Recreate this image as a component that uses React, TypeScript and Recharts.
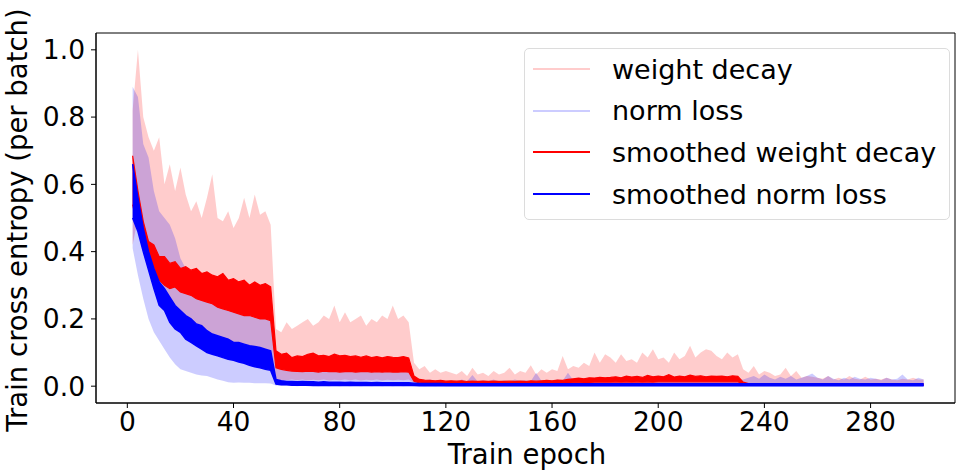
import { ComposedChart, Area, XAxis, YAxis, Legend, Label, ReferenceArea } from 'recharts';

const FONT = '"DejaVu Sans", sans-serif';

// x positions of the sampled points (epochs 2, 4, ..., 300)
const epochs = Array.from({ length: 150 }, (_, i) => 2 + 2 * i);
const xTicks = [0, 40, 80, 120, 160, 200, 240, 280];
const yTicks = [0, 0.2, 0.4, 0.6, 0.8, 1.0];
const xDomain = [-11.8, 311.8];
const yDomain = [-0.05, 1.05];

// weight decay, per batch (upper / lower envelope of the noisy curve)
const wdHi = [
  0.82, 1.0, 0.8, 0.74, 0.7, 0.74, 0.6, 0.66, 0.58, 0.65,
  0.57, 0.52, 0.55, 0.5, 0.56, 0.63, 0.5, 0.49, 0.52, 0.47,
  0.5, 0.56, 0.5, 0.57, 0.51, 0.52, 0.48, 0.17, 0.16, 0.19,
  0.17, 0.18, 0.19, 0.2, 0.18, 0.19, 0.21, 0.2, 0.24, 0.19,
  0.22, 0.19, 0.2, 0.21, 0.18, 0.2, 0.19, 0.21, 0.2, 0.24,
  0.2, 0.21, 0.19, 0.07, 0.05, 0.06, 0.04, 0.05, 0.04, 0.045,
  0.04, 0.035, 0.045, 0.03, 0.055, 0.035, 0.04, 0.03, 0.045, 0.035,
  0.04, 0.055, 0.035, 0.045, 0.04, 0.062, 0.035, 0.05, 0.04, 0.05,
  0.045, 0.09, 0.05, 0.06, 0.055, 0.07, 0.06, 0.1, 0.07, 0.095,
  0.085, 0.07, 0.095, 0.075, 0.08, 0.07, 0.1, 0.085, 0.11, 0.08,
  0.085, 0.07, 0.1, 0.08, 0.09, 0.12, 0.085, 0.1, 0.11, 0.105,
  0.09, 0.08, 0.1, 0.085, 0.095, 0.05, 0.04, 0.06, 0.035, 0.045,
  0.04, 0.03, 0.035, 0.055, 0.03, 0.045, 0.025, 0.03, 0.028, 0.025,
  0.022, 0.03, 0.02, 0.025, 0.02, 0.03, 0.022, 0.02, 0.028, 0.02,
  0.022, 0.02, 0.025, 0.02, 0.018, 0.022, 0.02, 0.025, 0.02, 0.02,
];
const wdLo = [
  0.42, 0.5, 0.43, 0.37, 0.32, 0.27, 0.25, 0.22, 0.2, 0.19,
  0.175, 0.16, 0.15, 0.14, 0.13, 0.12, 0.115, 0.11, 0.105, 0.1,
  0.095, 0.09, 0.088, 0.085, 0.08, 0.078, 0.075, 0.02, 0.018, 0.018,
  0.02, 0.018, 0.02, 0.017, 0.019, 0.018, 0.02, 0.017, 0.019, 0.018,
  0.02, 0.018, 0.02, 0.017, 0.019, 0.018, 0.02, 0.017, 0.019, 0.018,
  0.019, 0.018, 0.02, 0.01, 0.005, 0.004, 0.005, 0.004, 0.005, 0.004,
  0.005, 0.004, 0.005, 0.004, 0.005, 0.004, 0.005, 0.004, 0.005, 0.004,
  0.005, 0.004, 0.005, 0.004, 0.005, 0.004, 0.005, 0.004, 0.005, 0.004,
  0.006, 0.007, 0.008, 0.007, 0.008, 0.007, 0.008, 0.007, 0.008, 0.007,
  0.008, 0.007, 0.008, 0.007, 0.008, 0.007, 0.008, 0.007, 0.008, 0.007,
  0.008, 0.007, 0.008, 0.007, 0.008, 0.007, 0.008, 0.007, 0.008, 0.007,
  0.008, 0.007, 0.008, 0.007, 0.008, 0.004, 0.003, 0.004, 0.003, 0.004,
  0.003, 0.004, 0.003, 0.004, 0.003, 0.004, 0.003, 0.004, 0.003, 0.004,
  0.003, 0.004, 0.003, 0.004, 0.003, 0.004, 0.003, 0.004, 0.003, 0.004,
  0.003, 0.004, 0.003, 0.004, 0.003, 0.004, 0.003, 0.004, 0.003, 0.004,
];

// norm loss, per batch
const nlHi = [
  0.89, 0.86, 0.72, 0.68, 0.58, 0.52, 0.5, 0.48, 0.44, 0.38,
  0.35, 0.32, 0.31, 0.29, 0.28, 0.265, 0.25, 0.245, 0.235, 0.225,
  0.22, 0.215, 0.21, 0.205, 0.2, 0.2, 0.195, 0.06, 0.055, 0.05,
  0.05, 0.055, 0.045, 0.06, 0.05, 0.048, 0.055, 0.05, 0.045, 0.052,
  0.05, 0.045, 0.055, 0.048, 0.05, 0.045, 0.05, 0.044, 0.048, 0.05,
  0.045, 0.05, 0.044, 0.03, 0.02, 0.018, 0.02, 0.015, 0.018, 0.015,
  0.016, 0.014, 0.02, 0.015, 0.033, 0.014, 0.018, 0.015, 0.02, 0.014,
  0.018, 0.015, 0.02, 0.016, 0.018, 0.015, 0.04, 0.016, 0.018, 0.015,
  0.02, 0.016, 0.04, 0.018, 0.015, 0.02, 0.016, 0.018, 0.015, 0.02,
  0.016, 0.018, 0.015, 0.02, 0.016, 0.015, 0.018, 0.016, 0.015, 0.018,
  0.016, 0.02, 0.015, 0.018, 0.016, 0.02, 0.015, 0.018, 0.016, 0.015,
  0.018, 0.015, 0.02, 0.016, 0.018, 0.02, 0.025, 0.03, 0.022, 0.035,
  0.025, 0.02, 0.028, 0.022, 0.03, 0.02, 0.025, 0.03, 0.038, 0.025,
  0.02, 0.03, 0.022, 0.018, 0.025, 0.02, 0.028, 0.022, 0.02, 0.025,
  0.022, 0.018, 0.025, 0.02, 0.022, 0.035, 0.02, 0.018, 0.025, 0.02,
];
const nlLo = [
  0.41, 0.33, 0.26, 0.2, 0.16, 0.135, 0.11, 0.085, 0.065, 0.05,
  0.045, 0.04, 0.035, 0.032, 0.03, 0.025, 0.02, 0.016, 0.012, 0.01,
  0.011, 0.01, 0.01, 0.009, 0.009, 0.009, 0.008, 0.002, 0.001, 0.001,
  0.001, 0, 0.001, 0, 0.001, 0, 0.001, 0, 0.001, 0,
  0.001, 0, 0.001, 0, 0.001, 0, 0.001, 0, 0.001, 0,
  0.001, 0, 0.001, 0, 0.001, 0, 0.001, 0, 0.001, 0,
  0, 0, 0, 0, 0, 0, 0, 0, 0, 0,
  0, 0, 0, 0, 0, 0, 0, 0, 0, 0,
  0, 0, 0, 0, 0, 0, 0, 0, 0, 0,
  0, 0, 0, 0, 0, 0, 0, 0, 0, 0,
  0, 0, 0, 0, 0, 0, 0, 0, 0, 0,
  0, 0, 0, 0, 0, 0, 0, 0, 0, 0,
  0, 0, 0, 0, 0, 0, 0, 0, 0, 0,
  0, 0, 0, 0, 0, 0, 0, 0, 0, 0,
  0, 0, 0, 0, 0, 0, 0, 0, 0, 0,
];

// smoothed weight decay (band of the jittery smoothed curve)
const wdSmHi = [
  0.685, 0.58, 0.49, 0.43, 0.42, 0.385, 0.385, 0.365, 0.37, 0.35,
  0.355, 0.345, 0.35, 0.335, 0.34, 0.33, 0.325, 0.335, 0.315, 0.32,
  0.31, 0.315, 0.3, 0.31, 0.3, 0.305, 0.295, 0.105, 0.095, 0.098,
  0.085, 0.09, 0.088, 0.095, 0.098, 0.09, 0.092, 0.088, 0.095, 0.09,
  0.092, 0.088, 0.09, 0.086, 0.09, 0.085, 0.088, 0.084, 0.088, 0.086,
  0.085, 0.088, 0.084, 0.03, 0.02, 0.018, 0.017, 0.016, 0.017, 0.015,
  0.016, 0.015, 0.016, 0.014, 0.015, 0.014, 0.015, 0.014, 0.015, 0.014,
  0.014, 0.015, 0.014, 0.015, 0.014, 0.016, 0.015, 0.016, 0.017, 0.016,
  0.018, 0.017, 0.02, 0.022, 0.024, 0.022, 0.025, 0.024, 0.026, 0.025,
  0.026, 0.028, 0.025, 0.03, 0.027, 0.029, 0.026, 0.032, 0.028, 0.03,
  0.028, 0.034, 0.027, 0.03, 0.028, 0.033, 0.029, 0.031, 0.028, 0.03,
  0.029, 0.03, 0.028, 0.031, 0.029, 0.012, 0.008, 0.007, 0.007, 0.006,
  0.006, 0.006, 0.006, 0.006, 0.006, 0.006, 0.006, 0.006, 0.006, 0.006,
  0.006, 0.006, 0.006, 0.006, 0.006, 0.006, 0.006, 0.006, 0.006, 0.006,
  0.006, 0.006, 0.006, 0.006, 0.006, 0.006, 0.006, 0.006, 0.006, 0.006,
];
const wdSmLo = [
  0.54, 0.47, 0.41, 0.37, 0.34, 0.315, 0.3, 0.29, 0.295, 0.28,
  0.275, 0.27, 0.26, 0.255, 0.25, 0.245, 0.235, 0.23, 0.225, 0.22,
  0.215, 0.21, 0.21, 0.205, 0.2, 0.2, 0.195, 0.055, 0.05, 0.047,
  0.045, 0.044, 0.043, 0.045, 0.044, 0.042, 0.045, 0.043, 0.044, 0.042,
  0.043, 0.044, 0.042, 0.043, 0.044, 0.042, 0.043, 0.042, 0.043, 0.042,
  0.042, 0.043, 0.042, 0.015, 0.01, 0.009, 0.009, 0.008, 0.009, 0.008,
  0.008, 0.007, 0.008, 0.007, 0.008, 0.007, 0.008, 0.007, 0.008, 0.007,
  0.007, 0.007, 0.007, 0.007, 0.007, 0.007, 0.007, 0.007, 0.008, 0.008,
  0.008, 0.008, 0.009, 0.01, 0.01, 0.011, 0.011, 0.012, 0.012, 0.012,
  0.012, 0.013, 0.012, 0.013, 0.012, 0.013, 0.012, 0.013, 0.012, 0.013,
  0.013, 0.013, 0.013, 0.013, 0.013, 0.013, 0.013, 0.013, 0.013, 0.013,
  0.013, 0.013, 0.013, 0.013, 0.013, 0.005, 0.004, 0.003, 0.003, 0.003,
  0.003, 0.003, 0.003, 0.003, 0.003, 0.003, 0.003, 0.003, 0.003, 0.003,
  0.003, 0.003, 0.003, 0.003, 0.003, 0.003, 0.003, 0.003, 0.003, 0.003,
  0.003, 0.003, 0.003, 0.003, 0.003, 0.003, 0.003, 0.003, 0.003, 0.003,
];

// smoothed norm loss
const nlSmHi = [
  0.66, 0.56, 0.47, 0.4, 0.35, 0.31, 0.29, 0.265, 0.24, 0.225,
  0.21, 0.2, 0.185, 0.18, 0.165, 0.155, 0.15, 0.145, 0.14, 0.13,
  0.13, 0.125, 0.12, 0.118, 0.115, 0.11, 0.105, 0.02, 0.016, 0.014,
  0.014, 0.013, 0.014, 0.013, 0.013, 0.012, 0.013, 0.012, 0.012, 0.012,
  0.011, 0.012, 0.011, 0.011, 0.011, 0.01, 0.011, 0.01, 0.01, 0.01,
  0.01, 0.01, 0.01, 0.009, 0.008, 0.008, 0.008, 0.008, 0.008, 0.007,
  0.007, 0.007, 0.007, 0.007, 0.007, 0.007, 0.007, 0.007, 0.007, 0.007,
  0.007, 0.007, 0.007, 0.007, 0.007, 0.007, 0.007, 0.007, 0.007, 0.007,
  0.007, 0.007, 0.007, 0.007, 0.007, 0.007, 0.007, 0.007, 0.007, 0.007,
  0.007, 0.007, 0.007, 0.007, 0.007, 0.007, 0.007, 0.007, 0.007, 0.007,
  0.007, 0.007, 0.007, 0.007, 0.007, 0.007, 0.007, 0.007, 0.007, 0.007,
  0.007, 0.007, 0.007, 0.007, 0.007, 0.007, 0.007, 0.007, 0.007, 0.007,
  0.007, 0.007, 0.007, 0.007, 0.007, 0.007, 0.007, 0.007, 0.007, 0.007,
  0.007, 0.007, 0.007, 0.007, 0.007, 0.007, 0.007, 0.007, 0.007, 0.007,
  0.007, 0.007, 0.007, 0.007, 0.007, 0.007, 0.007, 0.007, 0.007, 0.007,
];
const nlSmLo = [
  0.5, 0.46, 0.4, 0.345, 0.29, 0.24, 0.225, 0.19, 0.17, 0.16,
  0.14, 0.13, 0.12, 0.11, 0.1, 0.095, 0.09, 0.085, 0.08, 0.077,
  0.072, 0.068, 0.062, 0.058, 0.055, 0.05, 0.047, 0.006, 0.004, 0.004,
  0.003, 0.003, 0.003, 0.003, 0.002, 0.002, 0.002, 0.002, 0.002, 0.002,
  0.002, 0.002, 0.002, 0.002, 0.002, 0.002, 0.002, 0.002, 0.002, 0.002,
  0.002, 0.002, 0.002, 0.002, 0.001, 0.001, 0.001, 0.001, 0.001, 0.001,
  0.001, 0.001, 0.001, 0.001, 0.001, 0.001, 0.001, 0.001, 0.001, 0.001,
  0.001, 0.001, 0.001, 0.001, 0.001, 0.001, 0.001, 0.001, 0.001, 0.001,
  0.001, 0.001, 0.001, 0.001, 0.001, 0.001, 0.001, 0.001, 0.001, 0.001,
  0.001, 0.001, 0.001, 0.001, 0.001, 0.001, 0.001, 0.001, 0.001, 0.001,
  0.001, 0.001, 0.001, 0.001, 0.001, 0.001, 0.001, 0.001, 0.001, 0.001,
  0.001, 0.001, 0.001, 0.001, 0.001, 0.001, 0.001, 0.001, 0.001, 0.001,
  0.001, 0.001, 0.001, 0.001, 0.001, 0.001, 0.001, 0.001, 0.001, 0.001,
  0.001, 0.001, 0.001, 0.001, 0.001, 0.001, 0.001, 0.001, 0.001, 0.001,
  0.001, 0.001, 0.001, 0.001, 0.001, 0.001, 0.001, 0.001, 0.001, 0.001,
];

const data = epochs.map((epoch, i) => ({
  epoch,
  wd: [wdLo[i], wdHi[i]],
  nl: [nlLo[i], nlHi[i]],
  wdSm: [wdSmLo[i], wdSmHi[i]],
  nlSm: [nlSmLo[i], nlSmHi[i]],
}));

const legendItems = [
  { name: 'weight decay', color: '#ffcccc' },
  { name: 'norm loss', color: '#ccccff' },
  { name: 'smoothed weight decay', color: '#ff0000' },
  { name: 'smoothed norm loss', color: '#0000ff' },
];

function LegendBox() {
  return (
    <div
      style={{
        position: 'relative',
        width: 426,
        height: 172,
        boxSizing: 'border-box',
        border: '1px solid #dcdcdc',
        borderRadius: 5,
        background: 'rgba(255,255,255,0.8)',
        fontFamily: FONT,
        fontSize: 27,
        color: '#000',
      }}
    >
      {legendItems.map((item, i) => (
        <div
          key={item.name}
          style={{
            position: 'absolute',
            left: 8,
            top: 20 + i * 41.7 - 17,
            height: 34,
            display: 'flex',
            alignItems: 'center',
            whiteSpace: 'nowrap',
          }}
        >
          <div style={{ width: 57, height: 2, background: item.color }} />
          <span style={{ marginLeft: 22 }}>{item.name}</span>
        </div>
      ))}
    </div>
  );
}

const tickStyle = { fontSize: 26.5, fill: '#000', fontFamily: FONT };

export default function App() {
  return (
    <div style={{ position: 'absolute', left: 0, top: 0, background: '#fff' }}>
      <ComposedChart
        width={959}
        height={470}
        data={data}
        margin={{ top: 33, right: 4, bottom: 0, left: 0 }}
      >
        <XAxis
          dataKey="epoch"
          type="number"
          domain={xDomain}
          ticks={xTicks}
          interval={0}
          allowDataOverflow
          height={67}
          tickSize={5}
          tickMargin={4}
          tick={tickStyle}
          axisLine={{ stroke: '#000' }}
          tickLine={{ stroke: '#000' }}
          label={
            <Label
              content={() => (
                <text x={527} y={464} textAnchor="middle" fontSize={27.5} fontFamily={FONT} fill="#000">
                  Train epoch
                </text>
              )}
            />
          }
        />
        <YAxis
          type="number"
          domain={yDomain}
          ticks={yTicks}
          interval={0}
          allowDataOverflow
          width={96}
          tickSize={5}
          tickMargin={6}
          tick={tickStyle}
          tickFormatter={(v: number) => v.toFixed(1)}
          axisLine={{ stroke: '#000' }}
          tickLine={{ stroke: '#000' }}
          label={
            <Label
              content={() => (
                <text
                  x={27}
                  y={220}
                  transform="rotate(-90 27 220)"
                  textAnchor="middle"
                  fontSize={27.5}
                  fontFamily={FONT}
                  fill="#000"
                >
                  Train cross entropy (per batch)
                </text>
              )}
            />
          }
        />

        <Area dataKey="wd" type="linear" fill="#ff0000" fillOpacity={0.2} stroke="none" dot={false} activeDot={false} isAnimationActive={false} />
        <Area dataKey="nl" type="linear" fill="#0000ff" fillOpacity={0.2} stroke="none" dot={false} activeDot={false} isAnimationActive={false} />
        <Area dataKey="wdSm" type="linear" fill="#ff0000" fillOpacity={1} stroke="#ff0000" strokeWidth={1.2} dot={false} activeDot={false} isAnimationActive={false} />
        <Area dataKey="nlSm" type="linear" fill="#0000ff" fillOpacity={1} stroke="#0000ff" strokeWidth={1.5} dot={false} activeDot={false} isAnimationActive={false} />

        {/* axes frame (top and right spines) */}
        <ReferenceArea
          x1={xDomain[0]}
          x2={xDomain[1]}
          y1={yDomain[0]}
          y2={yDomain[1]}
          ifOverflow="visible"
          fill="none"
          stroke="#000"
          strokeWidth={1}
        />

        <Legend
          verticalAlign="middle"
          align="center"
          layout="horizontal"
          content={() => <LegendBox />}
          wrapperStyle={{ top: 48, left: 524, width: 426, height: 172 }}
        />
      </ComposedChart>
    </div>
  );
}
